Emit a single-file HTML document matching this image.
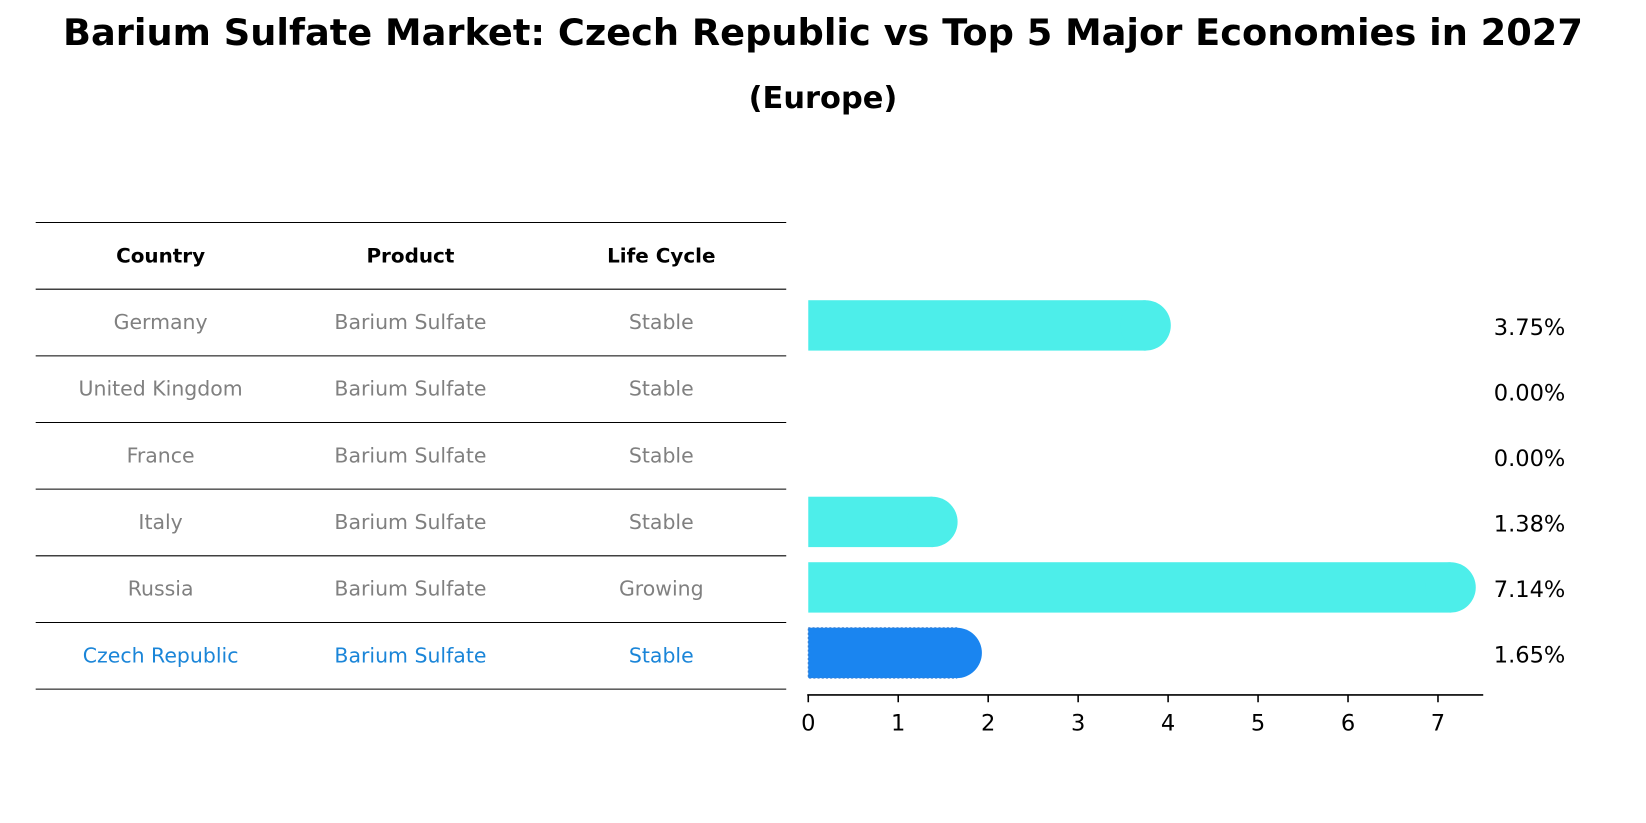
<!DOCTYPE html>
<html><head><meta charset="utf-8"><style>
body{margin:0;width:1646px;height:823px;background:#fff;font-family:"DejaVu Sans","Liberation Sans",sans-serif;overflow:hidden}
#wrap{position:absolute;left:0;top:0;width:1568px;height:784px;transform:scale(1.0497);transform-origin:0 0}
.t{position:absolute;white-space:nowrap}
</style></head><body>
<div id="wrap">
<div class="t" style="left:0;width:1568px;text-align:center;top:12px;font-size:35px;font-weight:bold">Barium Sulfate Market: Czech Republic vs Top 5 Major Economies in 2027</div>
<div class="t" style="left:0;width:1568px;text-align:center;top:76px;font-size:29px;font-weight:bold">(Europe)</div>
<svg id="s" width="1568" height="784" style="position:absolute;left:0;top:0;font-family:'DejaVu Sans',sans-serif"></svg>
</div>
<script>
const countries=["Germany","United Kingdom","France","Italy","Russia","Czech Republic"];
const products=["Barium Sulfate","Barium Sulfate","Barium Sulfate","Barium Sulfate","Barium Sulfate","Barium Sulfate"];
const lifeCycle=["Stable","Stable","Stable","Stable","Growing","Stable"];
const values=[3.75,0.00,0.00,1.38,7.14,1.65];
const ticks=[0,1,2,3,4,5,6,7];
const s=document.getElementById('s');const NS='http://www.w3.org/2000/svg';
function mk(t,a,txt){const e=document.createElementNS(NS,t);for(const k in a)e.setAttribute(k,a[k]);if(txt!=null)e.textContent=txt;s.appendChild(e);return e;}
const x=v=>770+v*85.7;
const lineY=i=>212+i*63.5;
const rowY=i=>lineY(i+1)+33;
for(let i=0;i<=countries.length+1;i++){
 const l=mk('line',{x1:34,x2:749,y1:lineY(i),y2:lineY(i),stroke:'#000','stroke-width':1});
 
 
}
const cols=[153,391,630];
["Country","Product","Life Cycle"].forEach((h,j)=>{
 const t=mk('text',{x:cols[j],y:250,'text-anchor':'middle','font-size':19,'font-weight':'bold'},h);
 
 
});
countries.forEach((c,i)=>{
 const hl=i===countries.length-1;const col=hl?'#1a85d8':'#808080';
 [c,products[i],lifeCycle[i]].forEach((v,j)=>{
  const t=mk('text',{x:cols[j],y:lineY(i+1)+38,'text-anchor':'middle','font-size':19.5,fill:col},v);
  
  
 });
 const yc=310+i*62.4,h=48,v=values[i];
 if(v>0){
  const fill=hl?'#1a85f0':'#4deeea';
  const r=mk('rect',{x:x(0),y:yc-h/2,width:x(v)-x(0),height:h,fill:fill});
  
  
  if(hl){r.setAttribute('stroke','#3a7fd0');r.setAttribute('stroke-dasharray','2,2');}
  const cap=mk('circle',{cx:x(v),cy:yc,r:h/2,fill:fill});
  
  
 }
 const lb=mk('text',{x:1423,y:yc+9,'font-size':21.5},v.toFixed(2)+'%');
 
 
});
const ax=mk('line',{x1:769,x2:1413,y1:662,y2:662,stroke:'#000','stroke-width':1.5});


ticks.forEach(t=>{
 const tk=mk('line',{x1:x(t),x2:x(t),y1:662,y2:669,stroke:'#000','stroke-width':1.5});
 
 
 const tl=mk('text',{x:x(t),y:696,'text-anchor':'middle','font-size':21.5},String(t));
 
 
});
</script>
</body></html>
